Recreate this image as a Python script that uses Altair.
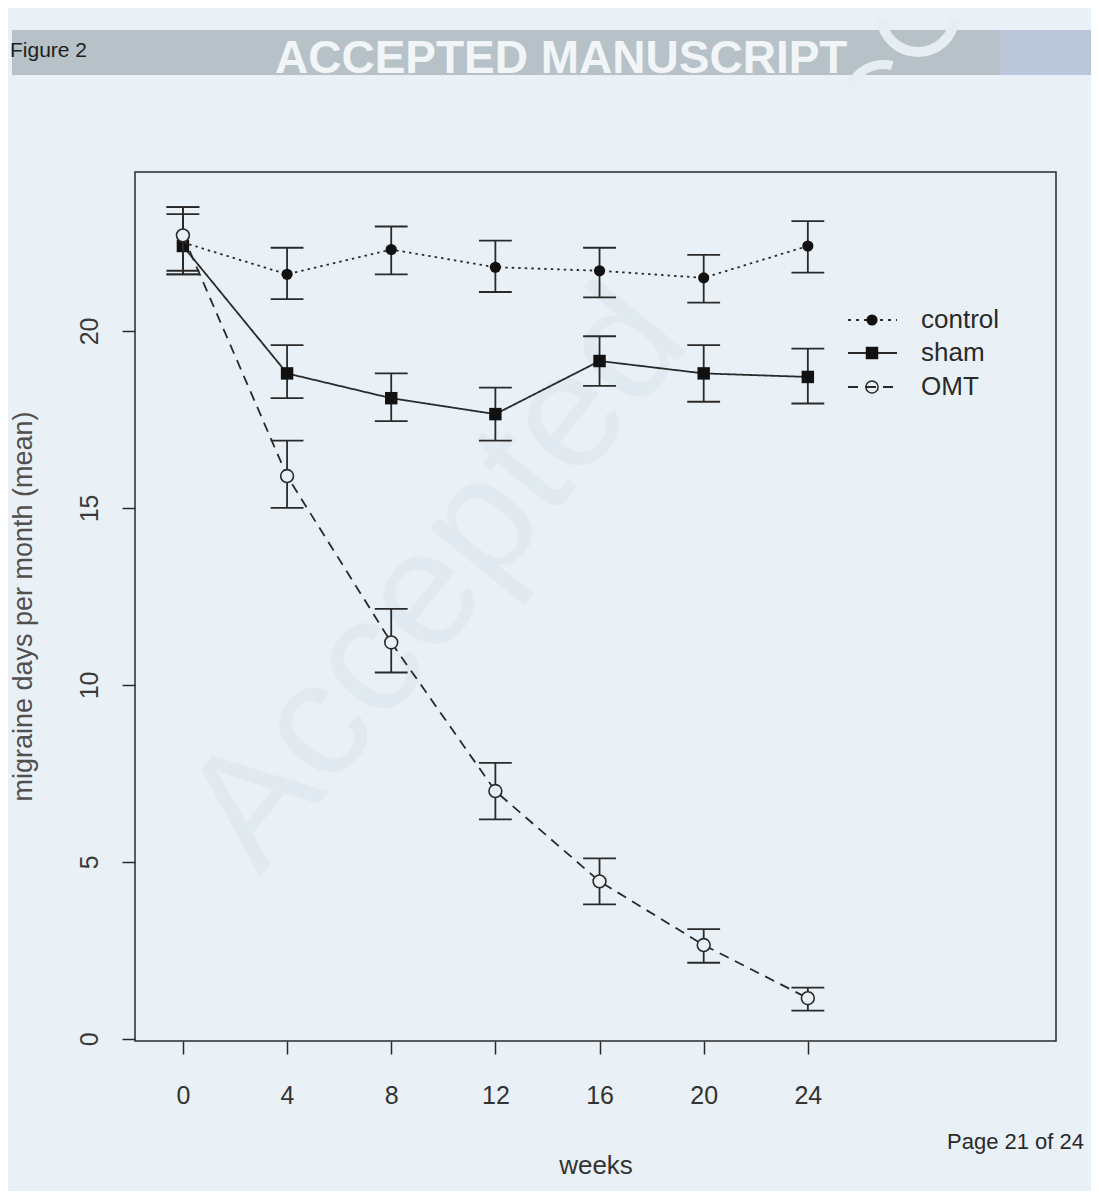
import altair as alt
import pandas as pd
import math

# ---- data ----
weeks = [0, 4, 8, 12, 16, 20, 24]
series_names = ["control", "sham", "OMT"]

control_mean = [22.5, 21.6, 22.3, 21.8, 21.7, 21.5, 22.4]
control_lo = [21.6, 20.9, 21.6, 21.1, 20.95, 20.8, 21.65]
control_hi = [23.5, 22.35, 22.95, 22.55, 22.35, 22.15, 23.1]

sham_mean = [22.4, 18.8, 18.1, 17.65, 19.15, 18.8, 18.7]
sham_lo = [21.6, 18.1, 17.45, 16.9, 18.45, 18.0, 17.95]
sham_hi = [23.3, 19.6, 18.8, 18.4, 19.85, 19.6, 19.5]

omt_mean = [22.7, 15.9, 11.2, 7.0, 4.45, 2.65, 1.15]
omt_lo = [21.7, 15.0, 10.35, 6.2, 3.8, 2.15, 0.8]
omt_hi = [23.5, 16.9, 12.15, 7.8, 5.1, 3.1, 1.45]

y_ticks = [0, 5, 10, 15, 20]
x_ticks = [0, 4, 8, 12, 16, 20, 24]

x_title = "weeks"
y_title = "migraine days per month (mean)"
header_left = "Figure 2"
header_text = "ACCEPTED MANUSCRIPT"
watermark = "Accepted"
page_text = "Page 21 of 24"

# ---- build table ----
rows = []
for name, m, lo, hi in [("control", control_mean, control_lo, control_hi),
                        ("sham", sham_mean, sham_lo, sham_hi),
                        ("OMT", omt_mean, omt_lo, omt_hi)]:
    for w, a, b, c in zip(weeks, m, lo, hi):
        rows.append({"week": w, "series": name, "mean": a, "lo": b, "hi": c})
df = pd.DataFrame(rows)

BG = "#e9f1f6"
INK = "#2a2a2a"
FONT = "Liberation Sans"
LW = 1.8

W, H = 921, 869
xs = alt.Scale(domain=[-1.84, 33.53], nice=False, zero=False)
ys = alt.Scale(domain=[-0.06, 24.49], nice=False, zero=False)

X = alt.X("week:Q", scale=xs,
          axis=alt.Axis(values=x_ticks, title=x_title, grid=False, domain=False,
                        tickSize=13, tickWidth=1.5, tickColor=INK,
                        labelFontSize=25, labelColor="#333333", labelFont=FONT,
                        labelBaseline="top", labelPadding=29, labelFlush=False,
                        titleFontSize=26, titleFont=FONT, titleFontWeight="normal",
                        titleColor="#333333", titleY=124, titleBaseline="middle"))
Y = alt.Y("mean:Q", scale=ys,
          axis=alt.Axis(values=y_ticks, title=y_title, grid=False, domain=False,
                        tickSize=13, tickWidth=1.5, tickColor=INK,
                        labelFontSize=25, labelColor="#3a3a3a", labelFont=FONT,
                        labelAngle=270, labelAlign="center", labelBaseline="alphabetic",
                        labelPadding=25, labelFlush=False,
                        titleFontSize=27, titleFont=FONT, titleFontWeight="normal",
                        titleColor="#505050", titleAngle=270, titleX=-112, titleY=434,
                        titleAlign="center", titleBaseline="middle"))

base = alt.Chart(df)

one = alt.Data(values=[{"k": 1}])

# decorations (header band, logo swirl, watermark, page number)
band1 = alt.Chart(one).mark_rect(color="#b7c1c8").encode(
    x=alt.value(-123), x2=alt.value(865), y=alt.value(-142), y2=alt.value(-97))
band2 = alt.Chart(one).mark_rect(color="#bcc7db").encode(
    x=alt.value(865), x2=alt.value(960), y=alt.value(-142), y2=alt.value(-97))
swirl1 = alt.Chart(one).mark_arc(color="#e6eef3").encode(
    x=alt.value(783), y=alt.value(-157), radius=alt.value(42), radius2=alt.value(32),
    theta=alt.value(math.radians(95)), theta2=alt.value(math.radians(265)))
swirl2 = alt.Chart(one).mark_arc(color="#e6eef3").encode(
    x=alt.value(748), y=alt.value(-72), radius=alt.value(40), radius2=alt.value(31),
    theta=alt.value(math.radians(290)), theta2=alt.value(math.radians(375)))
fig_txt = alt.Chart(one).mark_text(text=header_left, font=FONT, fontSize=21,
                                   color="#1e1e1e", align="left", baseline="middle").encode(
    x=alt.value(-125), y=alt.value(-121))
hdr_txt = alt.Chart(one).mark_text(text=header_text, font=FONT, fontSize=46,
                                   fontWeight="bold", color="#f1f5f7",
                                   align="left", baseline="alphabetic").encode(
    x=alt.value(140), y=alt.value(-99))
wm = alt.Chart(one).mark_text(text=watermark, font=FONT, fontSize=165, angle=309,
                              color="#e1eaf0", align="left", baseline="alphabetic").encode(
    x=alt.value(125), y=alt.value(705))
page = alt.Chart(one).mark_text(text=page_text, font=FONT, fontSize=22,
                                color="#2a2a2a", align="left", baseline="middle").encode(
    x=alt.value(812), y=alt.value(970))

layers = [band1, band2, swirl1, swirl2, fig_txt, hdr_txt, wm, page]

dash = {"control": [2.5, 4], "sham": [1, 0], "OMT": [10, 7]}
for name in series_names:
    sub = base.transform_filter(alt.datum.series == name)
    line = sub.mark_line(color=INK, strokeWidth=LW, strokeDash=dash[name]).encode(x=X, y=Y)
    err = sub.mark_rule(color=INK, strokeWidth=LW).encode(
        x="week:Q", y=alt.Y("lo:Q", scale=ys), y2="hi:Q")
    cap_lo = sub.transform_calculate(a="datum.week - 0.63", b="datum.week + 0.63").mark_rule(
        color=INK, strokeWidth=LW).encode(
        x=alt.X("a:Q", scale=xs), x2="b:Q", y=alt.Y("lo:Q", scale=ys))
    cap_hi = sub.transform_calculate(a="datum.week - 0.63", b="datum.week + 0.63").mark_rule(
        color=INK, strokeWidth=LW).encode(
        x=alt.X("a:Q", scale=xs), x2="b:Q", y=alt.Y("hi:Q", scale=ys))
    if name == "control":
        pts = sub.mark_point(shape="circle", filled=True, size=125, color="#111111",
                             opacity=1).encode(x=X, y=Y)
    elif name == "sham":
        pts = sub.mark_point(shape="square", filled=True, size=155, color="#111111",
                             opacity=1).encode(x=X, y=Y)
    else:
        pts = sub.mark_point(shape="circle", filled=False, size=165, stroke=INK,
                             fill=BG, fillOpacity=1, strokeWidth=1.6, opacity=1).encode(x=X, y=Y)
    layers += [line, err, cap_lo, cap_hi, pts]

# manual legend (R style, top right inside box)
leg_y = [148, 181, 215]
leg = []
leg.append(alt.Chart(one).mark_rule(color=INK, strokeWidth=LW, strokeDash=[3, 5]).encode(
    x=alt.value(713), x2=alt.value(762), y=alt.value(leg_y[0])))
leg.append(alt.Chart(one).mark_point(shape="circle", filled=True, size=125, color="#111111",
                                     opacity=1).encode(x=alt.value(737), y=alt.value(leg_y[0])))
leg.append(alt.Chart(one).mark_rule(color=INK, strokeWidth=LW).encode(
    x=alt.value(713), x2=alt.value(762), y=alt.value(leg_y[1])))
leg.append(alt.Chart(one).mark_point(shape="square", filled=True, size=155, color="#111111",
                                     opacity=1).encode(x=alt.value(737), y=alt.value(leg_y[1])))
leg.append(alt.Chart(one).mark_rule(color=INK, strokeWidth=LW,
                                    strokeDash=[10, 7, 11, 7, 10]).encode(
    x=alt.value(713), x2=alt.value(760), y=alt.value(leg_y[2])))
leg.append(alt.Chart(one).mark_point(shape="circle", filled=False, size=150, stroke=INK,
                                     strokeWidth=1.5, opacity=1).encode(
    x=alt.value(737), y=alt.value(leg_y[2])))
for i, name in enumerate(series_names):
    leg.append(alt.Chart(one).mark_text(text=name, font=FONT, fontSize=26, color="#2a2a2a",
                                        align="left", baseline="middle").encode(
        x=alt.value(786), y=alt.value(leg_y[i])))

layers += leg

chart = alt.layer(*layers).properties(
    width=W, height=H,
    autosize=alt.AutoSizeParams(type="none"),
    padding={"left": 127, "top": 164, "right": 35, "bottom": 150},
    background=BG,
).configure_view(stroke=INK, strokeWidth=1.5, fill=BG)

chart.save("out.html", embed_options={"renderer": "svg", "actions": False})
